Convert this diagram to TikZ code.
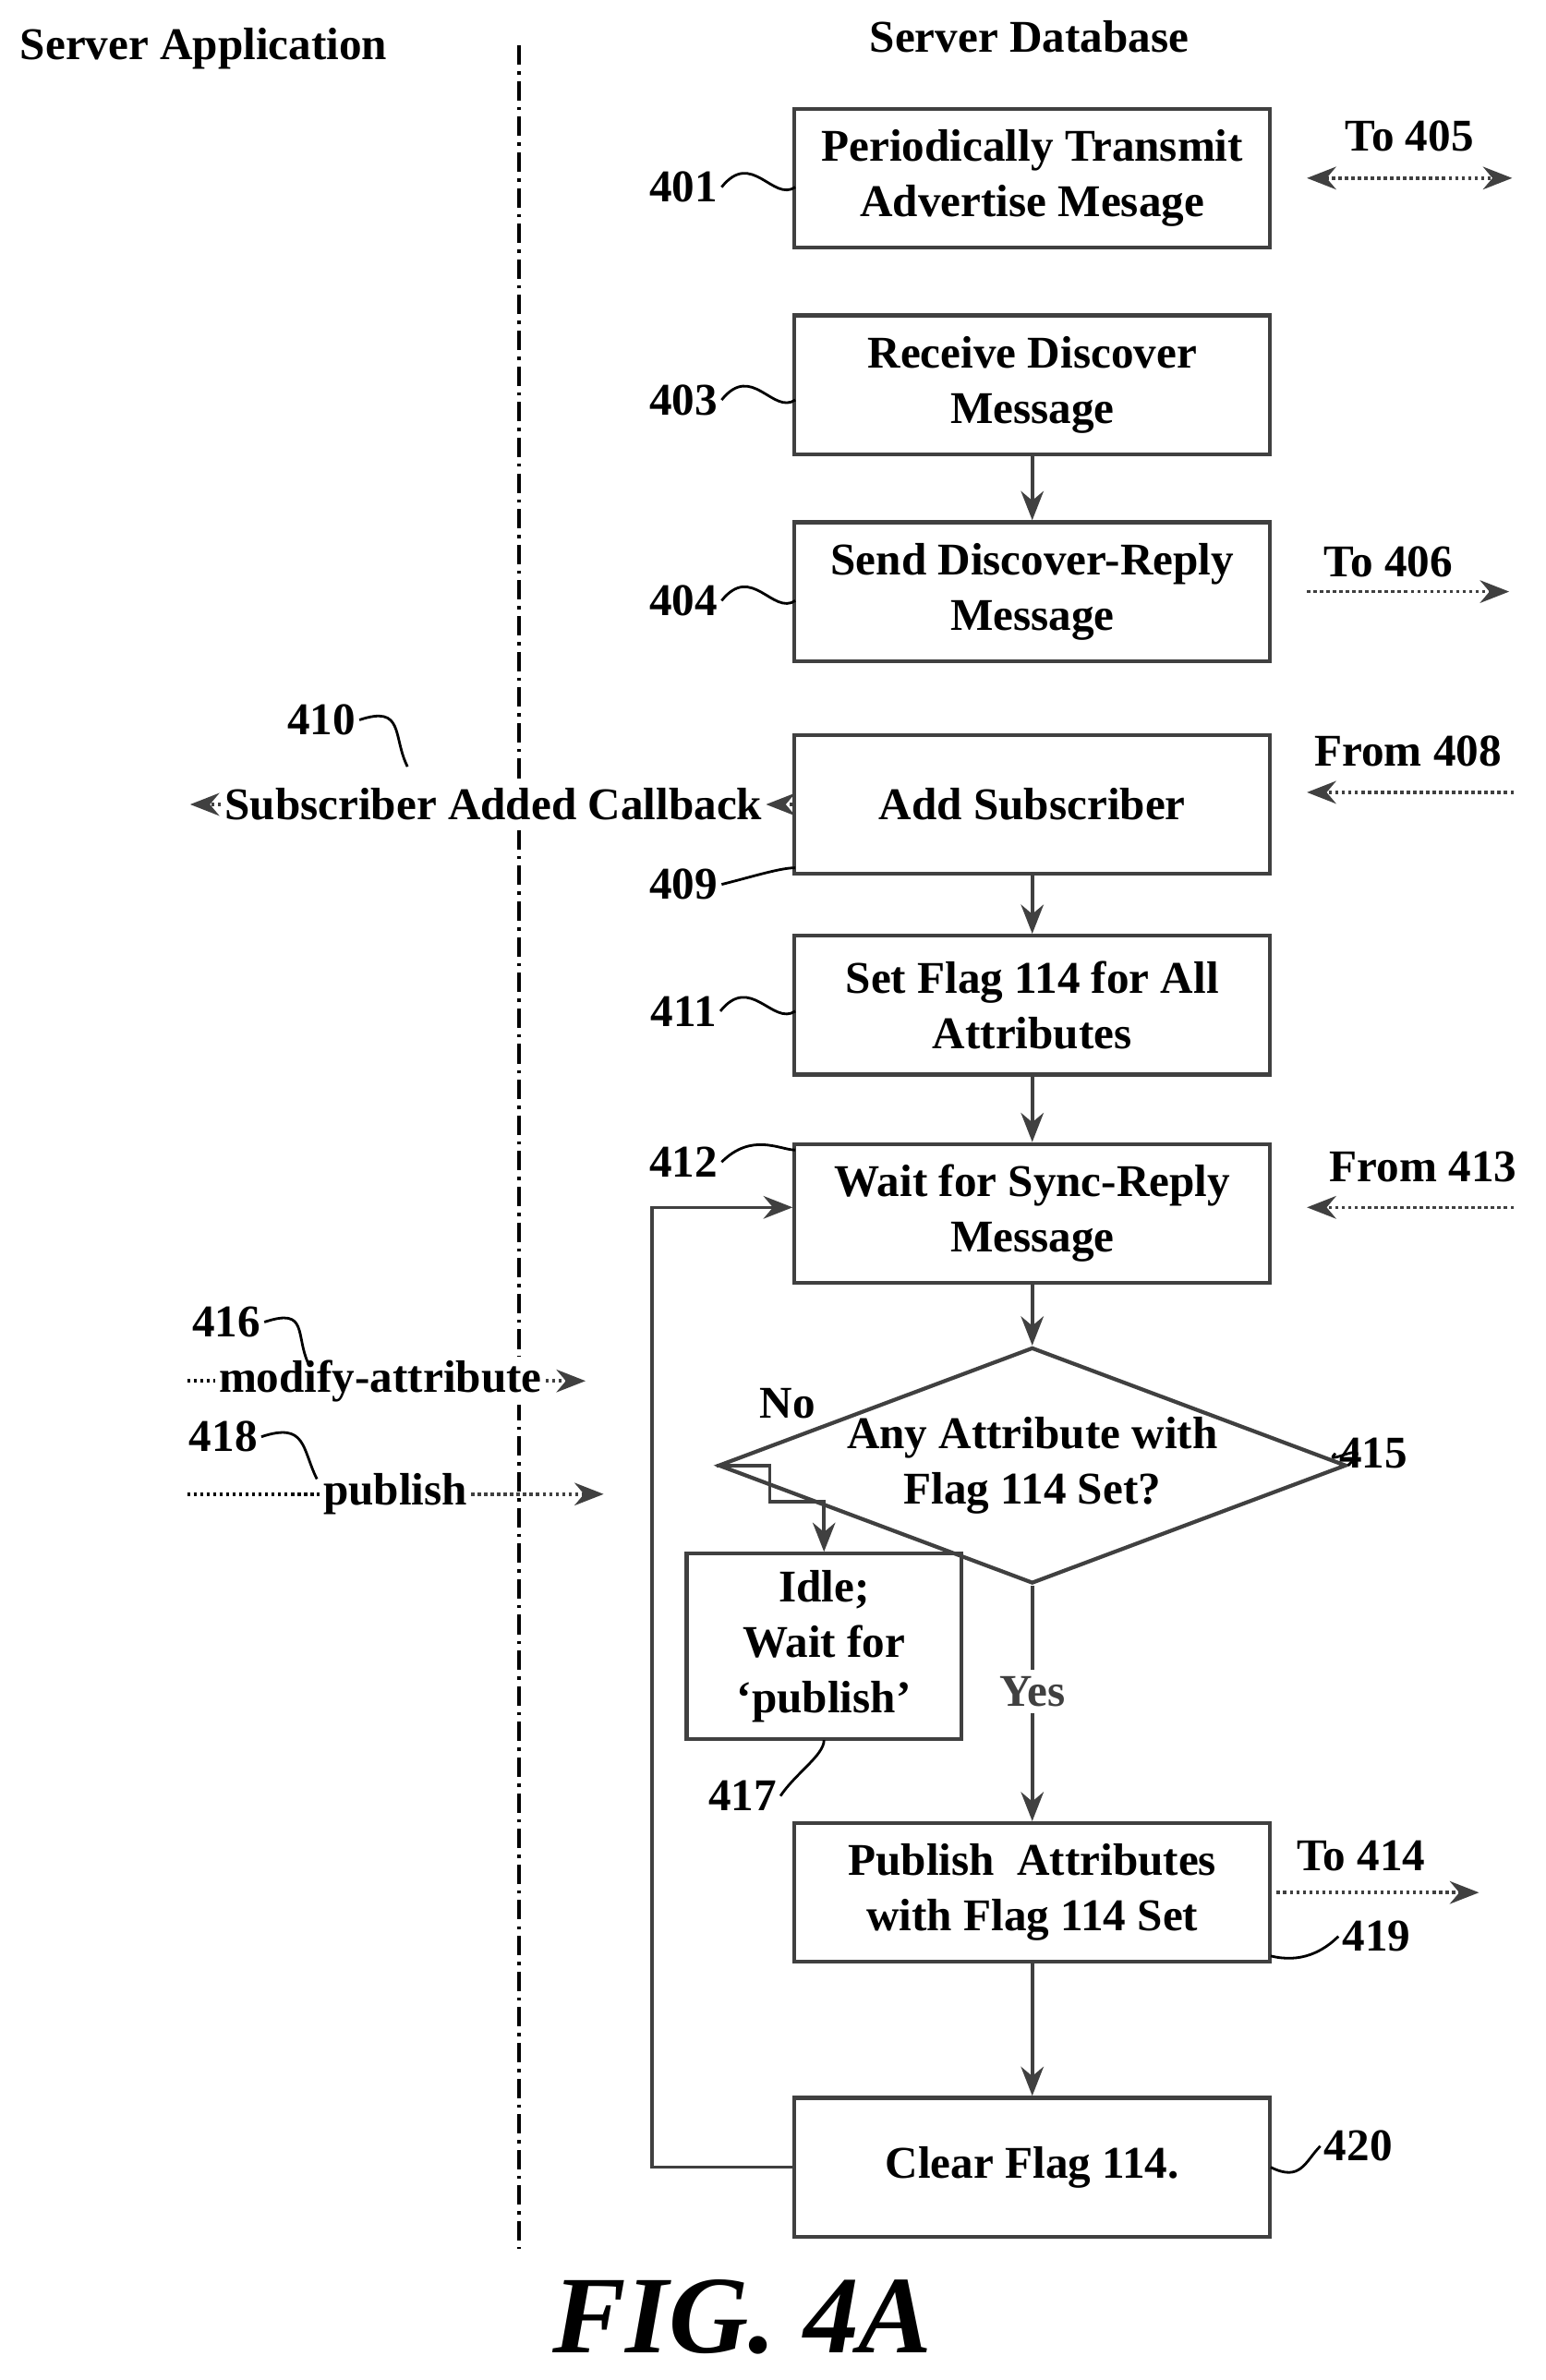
\documentclass[tikz,border=0pt]{standalone}
\usepackage{fontspec}
\setmainfont{Liberation Serif}
\usetikzlibrary{arrows.meta,shapes.geometric}
\begin{document}
\begin{tikzpicture}[x=0.01635cm,y=-0.01635cm,
 font=\fontsize{14}{17}\selectfont\bfseries,
 box/.style={draw=black!75,line width=1.2pt,minimum width=315*0.01635cm,minimum height=92*0.01635cm,align=center,inner sep=0pt},
 lab/.style={inner sep=1pt},
 sq/.style={line width=0.8pt},
 ar/.style={-{Stealth[length=9pt,width=7pt]},line width=1pt,black!75},
 dar/.style={ar,densely dotted}]
\useasboundingbox (0,0) rectangle (1024,1577);
\node (h1) at (135,32) {Server Application};
\node (h2) at (682,24) {Server Database};
\draw[line width=1pt,dash pattern=on 6pt off 2pt on 1pt off 2pt] (344,30) coordinate (vt) -- (344,1490) coordinate (vb);
\node[box] (b401) at (684,118) {Periodically Transmit\\Advertise Mesage};
\node[box] (b403) at (684,255) {Receive Discover\\Message};
\node[box] (b404) at (684,392) {Send Discover-Reply\\Message};
\node[box] (b409) at (684,533) {Add Subscriber};
\node[box] (b411) at (684,666) {Set Flag 114 for All\\Attributes};
\node[box] (b412) at (684,804) {Wait for Sync-Reply\\Message};
\node[draw=black!75,line width=1.2pt,diamond,aspect=2.66,minimum width=314*0.01635cm,minimum height=118*0.01635cm,align=center,inner sep=0pt] (d415) at (684,971) {Any Attribute with\\Flag 114 Set?};
\node[box,minimum width=182*0.01635cm,minimum height=123*0.01635cm] (b417) at (546,1091) {Idle;\\Wait for\\`publish'};
\node[box] (b419) at (684,1254) {Publish\ \ Attributes\\with Flag 114 Set};
\node[box] (b420) at (684,1436) {Clear Flag 114.};
\draw[ar] (b403) -- (b404);
\draw[ar] (b409) -- (b411);
\draw[ar] (b411) -- (b412);
\draw[ar] (b412) -- (d415);
\draw[ar] (d415) -- node[pos=0.45,fill=white,inner sep=2pt] (yes) {Yes} (b419);
\draw[ar] (b419) -- (b420);
\draw[ar] (d415.west) -- (510,971) -- (510,995) -- (546,995) -- (b417.north);
\node (no) at (522,930) {No};
\draw[ar] (b420.west) -- (432,1436) -- (432,800) -- (b412.west |- 0,800);
% side arrows
\coordinate (c405a) at (866,118); \coordinate (c405b) at (1002,118);
\draw[dar,{Stealth[length=9pt,width=7pt]}-{Stealth[length=9pt,width=7pt]}] (c405a) -- (c405b);
\node (t405) at (934,90) {To 405};
\coordinate (c406a) at (866,392); \coordinate (c406b) at (1000,392);
\draw[dar] (c406a) -- (c406b); \node (t406) at (920,372) {To 406};
\coordinate (c408a) at (1003,525); \coordinate (c408b) at (866,525);
\draw[dar] (c408a) -- (c408b); \node (t408) at (933,498) {From 408};
\coordinate (c413a) at (1003,800); \coordinate (c413b) at (866,800);
\draw[dar] (c413a) -- (c413b); \node (t413) at (943,773) {From 413};
\coordinate (c414a) at (846,1254); \coordinate (c414b) at (980,1254);
\draw[dar] (c414a) -- (c414b); \node (t414) at (902,1230) {To 414};
% callback
\node[fill=white,inner sep=1pt] (cb) at (327,533) {Subscriber Added Callback};
\coordinate (cbl) at (126,533);
\draw[ar,densely dotted] (b409.west) -- (cb.east);
\draw[ar,densely dotted] (cb.west) -- (cbl);
\node[fill=white,inner sep=1pt] (ma) at (252,915) {modify-attribute};
\coordinate (mal) at (124,915); \coordinate (mar) at (388,915);
\draw[densely dotted,line width=1pt] (mal) -- (ma.west);
\draw[ar,densely dotted] (ma.east) -- (mar);
\node[fill=white,inner sep=1pt] (pb) at (262,990) {publish};
\coordinate (pbl) at (124,990); \coordinate (pbr) at (400,990);
\draw[densely dotted,line width=1pt] (pbl) -- (pb.west);
\draw[ar,densely dotted] (pb.east) -- (pbr);
% labels with squiggles
\foreach \n/\y in {401/124,403/265,404/398,411/670}{
  \node[lab] (l\n) at (453,\y) {\n};
  \draw[sq] (l\n.east) .. controls +(20,-25) and +(-15,10) .. (527,\y);
}
\node[lab] (l409) at (453,586) {409};
\draw[sq] (l409.east) .. controls +(20,-5) and +(-10,0) .. (527,575);
\node[lab] (l412) at (453,770) {412};
\draw[sq] (l412.east) .. controls +(20,-20) and +(-10,0) .. (527,762);
\node[lab] (l410) at (213,477) {410};
\draw[sq] (l410.east) .. controls +(30,-10) and +(-10,-20) .. (270,508);
\node[lab] (l416) at (150,876) {416};
\draw[sq] (l416.east) .. controls +(30,-10) and +(-10,-20) .. (205,905);
\node[lab] (l418) at (148,952) {418};
\draw[sq] (l418.east) .. controls +(30,-10) and +(-10,-20) .. (210,980);
\node[lab] (l415) at (910,963) {415};
\draw[sq] (d415.east) .. controls +(20,-20) and +(-10,10) .. (l415.west);
\node[lab] (l417) at (492,1190) {417};
\draw[sq] (l417.east) .. controls +(10,-15) and +(0,10) .. (546,1153);
\node[lab] (l419) at (912,1283) {419};
\draw[sq] (842,1296) .. controls +(20,5) and +(-10,10) .. (l419.west);
\node[lab] (l420) at (900,1422) {420};
\draw[sq] (842,1436) .. controls +(20,10) and +(-10,10) .. (l420.west);
\node (fig) at (492,1535) {\fontsize{34}{38}\selectfont\bfseries\itshape FIG. 4A};
\end{tikzpicture}
\end{document}
